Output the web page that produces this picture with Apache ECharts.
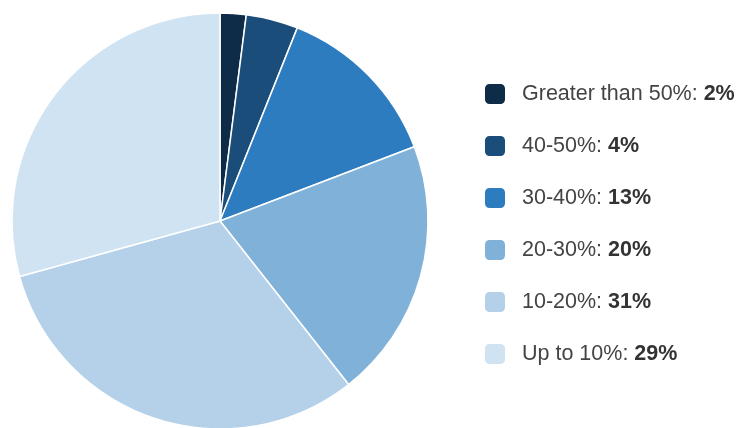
<!DOCTYPE html>
<html>
<head>
<meta charset="utf-8">
<script src="https://cdn.jsdelivr.net/npm/echarts@6/dist/echarts.min.js"></script>
<style>
  html, body { margin: 0; padding: 0; background: #fff; }
  #chart { width: 744px; height: 428px; }
</style>
</head>
<body>
<div id="chart"></div>
<script>
const categories = ['Greater than 50%', '40-50%', '30-40%', '20-30%', '10-20%', 'Up to 10%'];
const shares = [2, 4, 13, 20, 31, 29];
const sliceColors = ['#0e2b48', '#1a4d7a', '#2e7cc0', '#80b2d9', '#b4d1e9', '#d0e3f2'];

let chart = echarts.init(document.getElementById('chart'));

let options = {
    color: sliceColors,
    animation: false,
    legend: {
        orient: 'vertical',
        left: 483,
        top: 82,
        padding: 0,
        itemWidth: 22,
        itemHeight: 22,
        itemGap: 28,
        icon: 'roundRect',
        data: categories,
        formatter: function (name) {
            let i = categories.indexOf(name);
            return name + ': {b|' + shares[i] + '%}';
        },
        textStyle: {
            fontFamily: 'Helvetica, Arial, "Liberation Sans", sans-serif',
            fontSize: 21.5,
            lineHeight: 22,
            color: '#444',
            padding: [0, 0, 0, 11],
            rich: {
                b: {
                    fontFamily: 'Helvetica, Arial, "Liberation Sans", sans-serif',
                    fontSize: 21.5,
                    lineHeight: 22,
                    fontWeight: 'bold',
                    color: '#333'
                }
            }
        }
    },
    series: [
        {
            type: 'pie',
            center: [220, 221],
            radius: [0, 208],
            startAngle: 90,
            clockwise: true,
            label: { show: false },
            labelLine: { show: false },
            emphasis: { disabled: true },
            itemStyle: {
                borderColor: '#fff',
                borderWidth: 1.5
            },
            data: categories.map(function (c, i) {
                return { name: c, value: shares[i] };
            })
        }
    ]
};

chart.setOption(options);

window.addEventListener('resize', function () {
    chart?.resize();
});
</script>
</body>
</html>
